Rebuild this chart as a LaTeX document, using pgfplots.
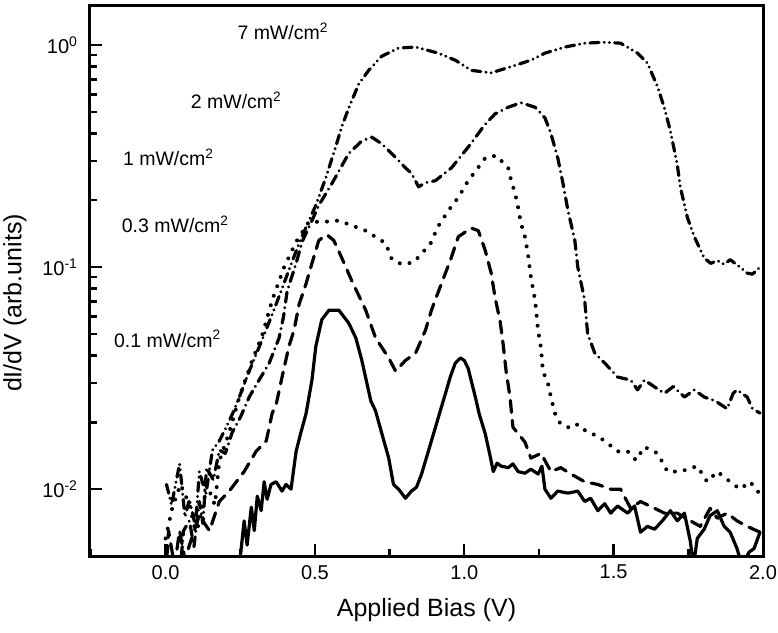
\documentclass[border=0pt]{standalone}
\usepackage{fontspec}
\setmainfont{Liberation Sans}
\usepackage{pgfplots}
\pgfplotsset{compat=1.18}

\begin{document}
\begin{tikzpicture}

\pgfplotsset{
  curve/.style={black, line width=1.6bp, line cap=round, line join=round},
}

\begin{axis}[
name=ax,
scale only axis,
width=336.5bp, height=275bp,
xmin=-0.253, xmax=2.0,
ymode=log,
ymin=0.005, ymax=1.5,
axis line style={line width=1.5bp},
tick align=inside,
tick pos=left,
major tick length=6bp,
minor tick length=3.5bp,
every tick/.style={black, line width=1.2bp},
xtick={0,0.5,1,1.5,2},
xticklabels={0.0,0.5,1.0,1.5,2.0},
minor xtick={-0.25,0.25,0.75,1.25,1.75},
ytick={0.01,0.1,1},
yticklabels={10\textsuperscript{-2},10\textsuperscript{-1},10\textsuperscript{0}},
yticklabel style={font=\fontsize{10bp}{11bp}\selectfont, xshift=-2.5bp},
xticklabel style={font=\fontsize{10bp}{11bp}\selectfont, yshift=-1bp},
xlabel={Applied Bias (V)},
ylabel={dI/dV (arb.units)},
every axis x label/.style={at={(axis description cs:0.5,-0.098)}, anchor=center,
  inner sep=0pt, font=\fontsize{12.5bp}{14bp}\selectfont},
every axis y label/.style={at={(axis description cs:-0.1115,0.46)}, rotate=90, anchor=center,
  inner sep=0pt, font=\fontsize{12.5bp}{14bp}\selectfont},
clip=true,
]

% 7 mW/cm2 : dash-dot-dot
\addplot [curve, dash pattern=on 4.5bp off 2.6bp on 0.01bp off 2.6bp on 0.01bp off 2.6bp] table {%
x y
0.003 0.0105
0.02 0.0085
0.047 0.013
0.065 0.0075
0.08 0.009
0.1 0.0068
0.113 0.012
0.135 0.0095
0.157 0.015
0.18 0.0165
0.203 0.019
0.225 0.022
0.247 0.026
0.28 0.034
0.323 0.047
0.37 0.068
0.413 0.097
0.447 0.128
0.48 0.162
0.503 0.19
0.537 0.254
0.57 0.35
0.59 0.43
0.613 0.52
0.647 0.67
0.68 0.77
0.723 0.89
0.78 0.97
0.837 0.98
0.913 0.92
0.97 0.855
1.023 0.77
1.09 0.75
1.157 0.80
1.223 0.855
1.27 0.92
1.337 0.98
1.403 1.02
1.47 1.03
1.523 1.02
1.58 0.92
1.613 0.83
1.647 0.65
1.67 0.52
1.69 0.41
1.713 0.29
1.723 0.23
1.747 0.167
1.77 0.137
1.803 0.11
1.825 0.104
1.847 0.107
1.87 0.103
1.89 0.108
1.923 0.10
1.947 0.094
1.965 0.093
1.99 0.10
};

% 2 mW/cm2 : dash-dot
\addplot [curve, dash pattern=on 5bp off 2.8bp on 0.01bp off 2.8bp] table {%
x y
0.047 0.004
0.06 0.0065
0.08 0.0072
0.095 0.0055
0.113 0.0088
0.125 0.007
0.137 0.0125
0.16 0.011
0.18 0.015
0.2 0.0145
0.223 0.018
0.25 0.021
0.28 0.026
0.313 0.031
0.347 0.037
0.38 0.048
0.395 0.06
0.407 0.078
0.437 0.104
0.457 0.13
0.49 0.162
0.513 0.19
0.557 0.238
0.613 0.325
0.657 0.37
0.69 0.385
0.723 0.36
0.757 0.325
0.803 0.28
0.823 0.265
0.847 0.23
0.87 0.24
0.903 0.245
0.957 0.28
1.013 0.347
1.07 0.44
1.103 0.49
1.147 0.525
1.19 0.55
1.237 0.525
1.27 0.47
1.29 0.40
1.313 0.31
1.33 0.24
1.347 0.18
1.37 0.132
1.38 0.10
1.403 0.071
1.413 0.05
1.437 0.041
1.47 0.037
1.513 0.032
1.557 0.031
1.58 0.028
1.603 0.031
1.635 0.029
1.67 0.027
1.7 0.029
1.737 0.026
1.77 0.028
1.803 0.026
1.84 0.025
1.88 0.023
1.9 0.027
1.913 0.028
1.947 0.026
1.965 0.023
1.99 0.022
};

% 1 mW/cm2 : dotted
\addplot [curve, line width=2bp, dash pattern=on 0.01bp off 5bp] table {%
x y
0.0 0.006
0.023 0.0083
0.05 0.0105
0.08 0.0085
0.1 0.0065
0.113 0.007
0.13 0.0092
0.147 0.0098
0.165 0.0085
0.18 0.0134
0.213 0.018
0.247 0.026
0.29 0.038
0.323 0.049
0.357 0.071
0.397 0.10
0.437 0.13
0.48 0.16
0.53 0.16
0.58 0.162
0.67 0.146
0.737 0.128
0.757 0.109
0.79 0.103
0.83 0.105
0.857 0.115
0.887 0.128
0.913 0.153
0.947 0.18
0.98 0.206
1.013 0.245
1.037 0.27
1.07 0.31
1.107 0.318
1.147 0.28
1.157 0.245
1.17 0.215
1.18 0.186
1.19 0.157
1.203 0.137
1.213 0.115
1.223 0.09
1.237 0.071
1.247 0.052
1.257 0.043
1.263 0.034
1.28 0.03
1.29 0.026
1.303 0.022
1.323 0.0196
1.357 0.0188
1.38 0.0196
1.413 0.018
1.44 0.0175
1.47 0.0165
1.513 0.0148
1.547 0.0148
1.575 0.0135
1.603 0.0155
1.647 0.0145
1.68 0.012
1.723 0.012
1.78 0.0127
1.813 0.0108
1.847 0.012
1.89 0.0108
1.923 0.010
1.957 0.0108
1.99 0.0095
};

% 0.3 mW/cm2 : dashed
\addplot [curve, dash pattern=on 6bp off 4bp] table {%
x y
0.0 0.004
0.01 0.0065
0.03 0.0045
0.047 0.0065
0.065 0.0048
0.08 0.0056
0.113 0.0076
0.147 0.0065
0.18 0.0088
0.213 0.0098
0.263 0.012
0.303 0.0148
0.337 0.0165
0.357 0.022
0.37 0.024
0.39 0.032
0.413 0.044
0.43 0.052
0.447 0.068
0.47 0.084
0.49 0.104
0.513 0.132
0.54 0.14
0.563 0.132
0.59 0.11
0.623 0.087
0.67 0.064
0.703 0.048
0.747 0.039
0.77 0.034
0.803 0.038
0.837 0.041
0.87 0.052
0.89 0.064
0.923 0.084
0.953 0.107
0.98 0.137
1.023 0.15
1.047 0.146
1.07 0.119
1.09 0.094
1.103 0.073
1.12 0.057
1.13 0.045
1.14 0.034
1.153 0.026
1.163 0.019
1.18 0.0178
1.203 0.0163
1.223 0.0138
1.257 0.0145
1.29 0.012
1.323 0.0125
1.357 0.0117
1.403 0.0108
1.447 0.0105
1.49 0.010
1.523 0.010
1.557 0.0082
1.59 0.0088
1.637 0.0082
1.67 0.0078
1.713 0.0078
1.757 0.0072
1.79 0.0068
1.823 0.0082
1.847 0.0074
1.88 0.0078
1.913 0.0072
1.947 0.0068
1.99 0.0064
};

% 0.1 mW/cm2 : solid
\addplot [curve, solid] table {%
x y
0.247 0.0045
0.263 0.0072
0.273 0.0056
0.287 0.0083
0.297 0.0065
0.307 0.0093
0.32 0.008
0.33 0.0108
0.34 0.009
0.353 0.0105
0.37 0.0108
0.39 0.0098
0.403 0.0105
0.42 0.010
0.437 0.0148
0.453 0.018
0.47 0.0218
0.49 0.031
0.503 0.044
0.523 0.058
0.547 0.064
0.58 0.064
0.613 0.056
0.637 0.048
0.657 0.038
0.687 0.025
0.703 0.0225
0.723 0.018
0.747 0.0138
0.763 0.0105
0.78 0.010
0.803 0.0091
0.823 0.0098
0.84 0.0102
0.857 0.0117
0.89 0.0165
0.913 0.021
0.937 0.027
0.953 0.032
0.97 0.037
0.987 0.039
1.0 0.038
1.013 0.035
1.037 0.026
1.05 0.0218
1.07 0.0178
1.087 0.014
1.097 0.012
1.11 0.0131
1.123 0.0127
1.147 0.0125
1.163 0.013
1.18 0.012
1.203 0.0118
1.223 0.0123
1.247 0.0117
1.26 0.0127
1.27 0.010
1.29 0.0091
1.313 0.0098
1.347 0.0096
1.38 0.0098
1.403 0.0088
1.423 0.0091
1.447 0.008
1.47 0.0086
1.49 0.0078
1.513 0.0084
1.547 0.0078
1.57 0.0084
1.59 0.0064
1.613 0.0068
1.637 0.0066
1.663 0.0072
1.69 0.008
1.713 0.0072
1.737 0.0078
1.757 0.0058
1.767 0.0045
1.78 0.006
1.803 0.0066
1.823 0.0076
1.847 0.008
1.87 0.0068
1.89 0.0064
1.913 0.0054
1.93 0.0045
1.953 0.0052
1.97 0.0054
1.99 0.0064
};

\begin{scope}[font=\fontsize{9.75bp}{11bp}\selectfont]
\node at (axis cs:0.393,1.156) {7 mW/cm\textsuperscript{2}};
\node at (axis cs:0.237,0.565) {2 mW/cm\textsuperscript{2}};
\node at (axis cs:0.010,0.312) {1 mW/cm\textsuperscript{2}};
\node at (axis cs:0.033,0.1555) {0.3 mW/cm\textsuperscript{2}};
\node at (axis cs:0.007,0.0475) {0.1 mW/cm\textsuperscript{2}};
\end{scope}

\end{axis}
\pgfresetboundingbox
\useasboundingbox ([shift={(-45bp,-38.5bp)}]ax.south west) rectangle ([shift={(7.5bp,3bp)}]ax.north east);
\end{tikzpicture}
\end{document}
